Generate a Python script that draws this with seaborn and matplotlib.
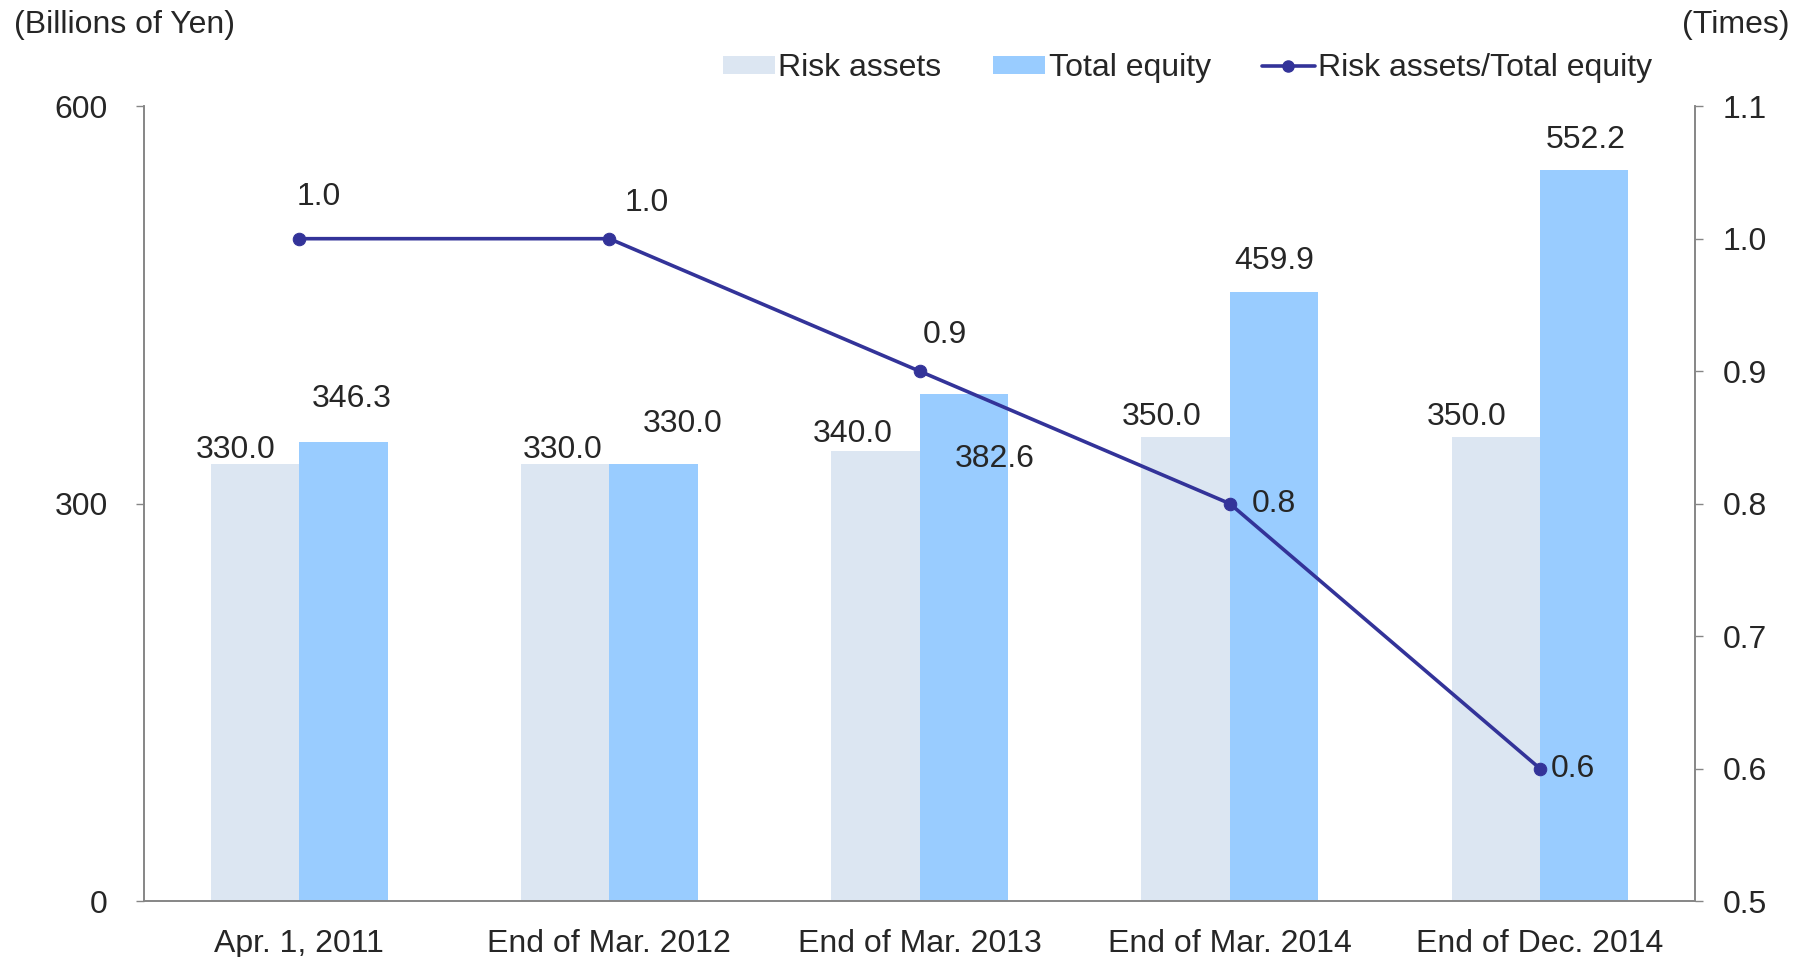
import numpy as np
import pandas as pd
import matplotlib
matplotlib.use("Agg")
import matplotlib.pyplot as plt
from matplotlib.patches import Patch
from matplotlib.lines import Line2D
from matplotlib.ticker import FormatStrFormatter
import seaborn as sns

# data
periods = ["Apr. 1, 2011", "End of Mar. 2012", "End of Mar. 2013", "End of Mar. 2014", "End of Dec. 2014"]
risk_assets = [330.0, 330.0, 340.0, 350.0, 350.0]
total_equity = [346.3, 330.0, 382.6, 459.9, 552.2]
ratio = [1.0, 1.0, 0.9, 0.8, 0.6]

c_risk = "#DCE6F2"
c_equity = "#99CCFF"
c_line = "#333399"
c_axis = "#868686"
fs = 23

sns.set_style("white")
plt.rcParams["font.family"] = ["Liberation Sans", "DejaVu Sans"]
plt.rcParams["font.size"] = fs

df = pd.DataFrame({
    "period": periods * 2,
    "value": risk_assets + total_equity,
    "series": ["Risk assets"] * 5 + ["Total equity"] * 5,
})

fig = plt.figure(figsize=(18.11, 9.57), dpi=100)
ax = fig.add_axes([0.0795, 0.0585, 0.8565, 0.8305])

sns.barplot(data=df, x="period", y="value", hue="series", palette=[c_risk, c_equity],
            width=0.57, gap=0, linewidth=0, saturation=1, legend=False, ax=ax)

ax2 = ax.twinx()
x_pos = np.arange(len(periods))
sns.lineplot(x=x_pos, y=ratio, ax=ax2, color=c_line, linewidth=2.6, marker="o",
             markersize=9, markeredgecolor=c_line, legend=False)

ax.set_xlim(-0.5, len(periods) - 0.5)
ax.set_ylim(0, 600)
ax.set_yticks([0, 300, 600])
ax2.set_ylim(0.5, 1.1)
ax2.set_yticks(np.arange(0.5, 1.11, 0.1))
ax2.yaxis.set_major_formatter(FormatStrFormatter("%.1f"))

ax.set_xlabel("")
ax.set_ylabel("")
ax2.set_ylabel("")
ax.set_xticks(x_pos)
ax.set_xticklabels(periods)
ax.set_xticks(np.arange(-0.5, len(periods)), minor=True)
ax.tick_params(axis="x", which="major", length=0, pad=20, labelsize=fs)
ax.tick_params(axis="x", which="minor", length=11, width=1, color=c_axis, direction="out")
ax.tick_params(axis="y", length=6, width=1, color=c_axis, direction="out", pad=20, labelsize=fs, left=True)
ax2.tick_params(axis="y", length=6, width=1, color=c_axis, direction="out", pad=14, labelsize=fs, right=True)

for a in (ax, ax2):
    for s in a.spines.values():
        s.set_color(c_axis)
        s.set_linewidth(1.2)
    a.spines["top"].set_visible(False)

# value labels (offsets in points, label centre relative to bar top)
risk_off = [(-14, 10), (-2, 10), (-16, 12), (-17, 15), (-21, 15)]
eq_off = [(6, 31), (21, 29), (22, -47), (0, 22), (1, 21)]
for i in range(len(periods)):
    ax.annotate(f"{risk_assets[i]:.1f}", (i - 0.1425, risk_assets[i]), xytext=risk_off[i],
                textcoords="offset points", ha="center", va="center", fontsize=fs)
    ax.annotate(f"{total_equity[i]:.1f}", (i + 0.1425, total_equity[i]), xytext=eq_off[i],
                textcoords="offset points", ha="center", va="center", fontsize=fs)

line_off = [(14, 30), (27, 26), (18, 26), (32, 0), (24, 0)]
for i in range(len(periods)):
    ax2.annotate(f"{ratio[i]:.1f}", (i, ratio[i]), xytext=line_off[i], textcoords="offset points",
                 ha="center", va="center", fontsize=fs)

handles = [
    Patch(facecolor=c_risk, edgecolor="none"),
    Patch(facecolor=c_equity, edgecolor="none"),
    Line2D([0], [0], color=c_line, linewidth=2.6, marker="o", markersize=8),
]
fig.legend(handles, ["Risk assets", "Total equity", "Risk assets/Total equity"],
           loc="center right", bbox_to_anchor=(0.928, 0.929), ncol=3, frameon=False,
           fontsize=fs, handlelength=1.65, handleheight=0.5, handletextpad=0.1,
           columnspacing=1.6)

fig.text(0.008, 0.974, "(Billions of Yen)", ha="left", va="center", fontsize=fs)
fig.text(0.988, 0.974, "(Times)", ha="right", va="center", fontsize=fs)

fig.savefig("out.png", dpi=100)
